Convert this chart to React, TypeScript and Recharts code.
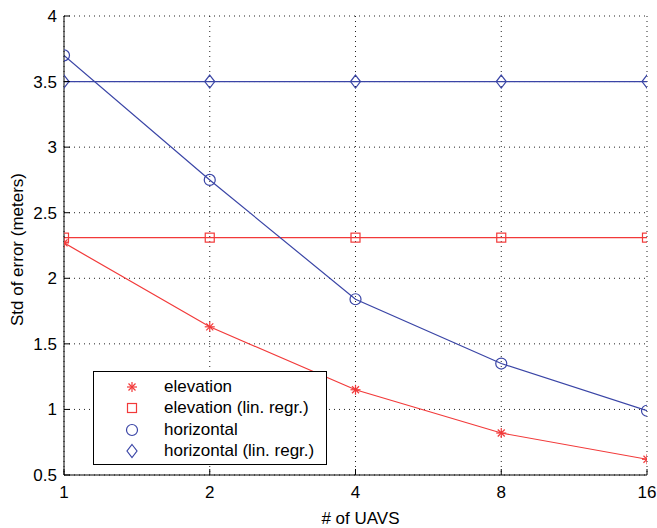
import { LineChart, Line, XAxis, YAxis, CartesianGrid } from 'recharts';

const uavs = [1, 2, 4, 8, 16];
const elevation = [2.27, 1.63, 1.15, 0.82, 0.62];
const elevationLinRegr = [2.31, 2.31, 2.31, 2.31, 2.31];
const horizontal = [3.7, 2.75, 1.84, 1.35, 0.99];
const horizontalLinRegr = [3.5, 3.5, 3.5, 3.5, 3.5];
const yTicks = [0.5, 1, 1.5, 2, 2.5, 3, 3.5, 4];

const RED = '#f23a3a';
const BLUE = '#3a45a6';
const FONT = '"Liberation Sans", Arial, Helvetica, sans-serif';

const data = uavs.map((n, i) => ({
  n,
  elevation: elevation[i],
  elevationLinRegr: elevationLinRegr[i],
  horizontal: horizontal[i],
  horizontalLinRegr: horizontalLinRegr[i],
}));

const Star = ({ cx, cy, color }: any) => {
  const r = 5;
  return (
    <g stroke={color} strokeWidth={1.2}>
      <line x1={cx - r} y1={cy} x2={cx + r} y2={cy} />
      <line x1={cx} y1={cy - r} x2={cx} y2={cy + r} />
      <line x1={cx - r * 0.7} y1={cy - r * 0.7} x2={cx + r * 0.7} y2={cy + r * 0.7} />
      <line x1={cx - r * 0.7} y1={cy + r * 0.7} x2={cx + r * 0.7} y2={cy - r * 0.7} />
    </g>
  );
};

const Square = ({ cx, cy, color }: any) => (
  <rect x={cx - 4.5} y={cy - 4.5} width={9} height={9} fill="none" stroke={color} strokeWidth={1.2} />
);

const Circle = ({ cx, cy, color }: any) => (
  <circle cx={cx} cy={cy} r={5.5} fill="none" stroke={color} strokeWidth={1.2} />
);

const Diamond = ({ cx, cy, color }: any) => (
  <path
    d={`M${cx},${cy - 6.5} L${cx + 5},${cy} L${cx},${cy + 6.5} L${cx - 5},${cy} Z`}
    fill="none"
    stroke={color}
    strokeWidth={1.2}
  />
);

const XTick = ({ x, y, payload }: any) => (
  <g>
    <line x1={x} y1={y} x2={x} y2={y - 6} stroke="#000" />
    <text x={x} y={y + 23} textAnchor="middle" fontSize={17} fontFamily={FONT} fill="#000">
      {payload.value}
    </text>
  </g>
);

const YTick = ({ x, y, payload }: any) => (
  <g>
    <line x1={x} y1={y} x2={x + 6} y2={y} stroke="#000" />
    <text x={x - 7} y={y + 6} textAnchor="end" fontSize={17} fontFamily={FONT} fill="#000">
      {payload.value}
    </text>
  </g>
);

const legendItems = [
  { label: 'elevation', Marker: Star, color: RED },
  { label: 'elevation (lin. regr.)', Marker: Square, color: RED },
  { label: 'horizontal', Marker: Circle, color: BLUE },
  { label: 'horizontal (lin. regr.)', Marker: Diamond, color: BLUE },
];

const LegendBox = () => (
  <div
    style={{
      position: 'absolute',
      left: 93,
      top: 371,
      width: 232,
      height: 88,
      border: '1px solid #000',
      background: '#fff',
      fontFamily: FONT,
      fontSize: 17,
      color: '#000',
      paddingTop: 4,
    }}
  >
    {legendItems.map(({ label, Marker, color }) => (
      <div key={label} style={{ display: 'flex', alignItems: 'center', height: 21.5, whiteSpace: 'nowrap' }}>
        <svg width={70} height={20} style={{ flexShrink: 0 }}>
          <Marker cx={38} cy={10} color={color} />
        </svg>
        <span>{label}</span>
      </div>
    ))}
  </div>
);

const App = () => (
  <div style={{ position: 'absolute', left: 0, top: 0, width: 657, height: 528, background: '#fff' }}>
    <LineChart width={657} height={528} data={data} margin={{ top: 16, right: 10, left: 0, bottom: 0 }}>
      <CartesianGrid stroke="#222" strokeDasharray="1 4" horizontalValues={yTicks} verticalValues={uavs} />
      <XAxis
        dataKey="n"
        type="number"
        scale="log"
        domain={[1, 16]}
        ticks={uavs}
        allowDataOverflow
        tickSize={0}
        tickMargin={0}
        tick={<XTick />}
        height={53}
        stroke="#000"
        label={{ value: '# of UAVS', position: 'insideBottom', offset: 4, dx: 5, fontSize: 17, fontFamily: FONT, fill: '#000' }}
      />
      <YAxis
        type="number"
        domain={[0.5, 4]}
        ticks={yTicks}
        tickSize={0}
        tickMargin={0}
        tick={<YTick />}
        width={64}
        stroke="#000"
        label={{
          value: 'Std of error (meters)',
          angle: -90,
          position: 'insideLeft',
          offset: 17,
          dy: 4,
          style: { textAnchor: 'middle' },
          fontSize: 17,
          fontFamily: FONT,
          fill: '#000',
        }}
      />
      <Line
        dataKey="horizontalLinRegr"
        stroke={BLUE}
        strokeWidth={1.2}
        dot={(p: any) => <Diamond key={p.index} cx={p.cx} cy={p.cy} color={BLUE} />}
        isAnimationActive={false}
      />
      <Line
        dataKey="elevationLinRegr"
        stroke={RED}
        strokeWidth={1.2}
        dot={(p: any) => <Square key={p.index} cx={p.cx} cy={p.cy} color={RED} />}
        isAnimationActive={false}
      />
      <Line
        dataKey="horizontal"
        stroke={BLUE}
        strokeWidth={1.2}
        dot={(p: any) => <Circle key={p.index} cx={p.cx} cy={p.cy} color={BLUE} />}
        isAnimationActive={false}
      />
      <Line
        dataKey="elevation"
        stroke={RED}
        strokeWidth={1.2}
        dot={(p: any) => <Star key={p.index} cx={p.cx} cy={p.cy} color={RED} />}
        isAnimationActive={false}
      />
    </LineChart>
    <LegendBox />
  </div>
);

export default App;
